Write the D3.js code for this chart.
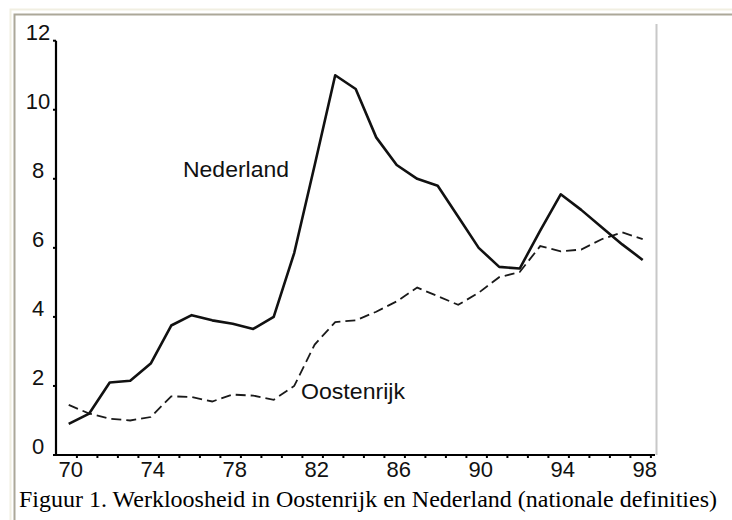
<!DOCTYPE html>
<html><head><meta charset="utf-8">
<script src="https://cdn.jsdelivr.net/npm/d3@7"></script>
<style>body{margin:0;background:#fff;} svg{display:block}</style>
</head><body>
<svg id="c" width="732" height="520"></svg>
<script>
const years = [70,71,72,73,74,75,76,77,78,79,80,81,82,83,84,85,86,87,88,89,90,91,92,93,94,95,96,97,98];
const nederland = [0.9,1.2,2.1,2.15,2.65,3.75,4.05,3.9,3.8,3.65,4.0,5.85,8.4,11.0,10.6,9.2,8.4,8.0,7.8,6.9,6.0,5.45,5.4,6.5,7.55,7.1,6.6,6.1,5.65];
const oostenrijk = [1.45,1.2,1.05,1.0,1.1,1.7,1.68,1.55,1.75,1.72,1.6,2.0,3.2,3.85,3.9,4.15,4.45,4.85,4.6,4.35,4.7,5.15,5.3,6.05,5.9,5.95,6.25,6.45,6.25];
const yTicks = [0,2,4,6,8,10,12];
const xLabels = [70,74,78,82,86,90,94,98];
const seriesNames = ["Nederland","Oostenrijk"];
const caption = "Figuur 1. Werkloosheid in Oostenrijk en Nederland (nationale definities)";

const svg = d3.select("#c");
const x = d3.scaleLinear().domain([69.38, 98.6]).range([56, 655]);
const y = d3.scaleLinear().domain([0, 12]).range([455, 40.7]);
const sans = "Liberation Sans, Arial, sans-serif";

// frame (table cell border)
svg.append("path").attr("d","M10.5,520V9.5H732").attr("fill","none").attr("stroke","#f1efe2").attr("stroke-width",2);
svg.append("path").attr("d","M14.5,520V14.5H732").attr("fill","none").attr("stroke","#aca899").attr("stroke-width",2);

// right edge of chart image
svg.append("line").attr("x1",656.5).attr("x2",656.5).attr("y1",24).attr("y2",y(0))
  .attr("stroke","#c8c8c8").attr("stroke-width",2);

const lineGen = arr => d3.line().x((d,i)=>x(years[i])).y(d=>y(d))(arr);

svg.append("path").attr("d", lineGen(oostenrijk)).attr("fill","none")
  .attr("stroke","#1a1a1a").attr("stroke-width",1.8).attr("stroke-dasharray","10,5");
svg.append("path").attr("d", lineGen(nederland)).attr("fill","none")
  .attr("stroke","#111").attr("stroke-width",2.6).attr("stroke-linejoin","round");

// axes
svg.append("line").attr("x1",x.range()[0]).attr("x2",x.range()[0]).attr("y1",y(0)+1).attr("y2",y(12))
  .attr("stroke","#000").attr("stroke-width",2.2);
svg.append("line").attr("x1",x.range()[0]).attr("x2",x.range()[1]).attr("y1",y(0)).attr("y2",y(0))
  .attr("stroke","#000").attr("stroke-width",2.2);

// y ticks
svg.selectAll(".yt").data(yTicks).enter().append("line")
  .attr("x1",x.range()[0]-3).attr("x2",x.range()[0]).attr("y1",d=>y(d)).attr("y2",d=>y(d))
  .attr("stroke","#000").attr("stroke-width",2);
svg.selectAll(".yl").data(yTicks).enter().append("text")
  .attr("x",38).attr("y",d=>y(d)-1).attr("text-anchor","middle")
  .attr("font-family",sans).attr("font-size",22)
  .attr("fill","#111").text(d=>d);

// x ticks
svg.selectAll(".xt").data(years).enter().append("line")
  .attr("x1",d=>x(d+0.4)).attr("x2",d=>x(d+0.4)).attr("y1",y(0)).attr("y2",y(0)+3)
  .attr("stroke","#000").attr("stroke-width",2);
svg.selectAll(".xl").data(xLabels).enter().append("text")
  .attr("x",d=>x(d)+2).attr("y",477).attr("text-anchor","middle")
  .attr("font-family",sans).attr("font-size",22)
  .attr("fill","#111").text(d=>d);

// series labels
svg.append("text").attr("x",183).attr("y",177)
  .attr("font-family",sans).attr("font-size",22)
  .attr("textLength",106).attr("lengthAdjust","spacingAndGlyphs")
  .attr("fill","#111").text(seriesNames[0]);
svg.append("text").attr("x",301).attr("y",399)
  .attr("font-family",sans).attr("font-size",22)
  .attr("textLength",104).attr("lengthAdjust","spacingAndGlyphs")
  .attr("fill","#111").text(seriesNames[1]);

// caption
svg.append("text").attr("x",19).attr("y",507)
  .attr("font-family","Liberation Serif, Times New Roman, serif").attr("font-size",23.5)
  .attr("textLength",698).attr("lengthAdjust","spacingAndGlyphs")
  .attr("fill","#000").text(caption);
</script>
</body></html>
